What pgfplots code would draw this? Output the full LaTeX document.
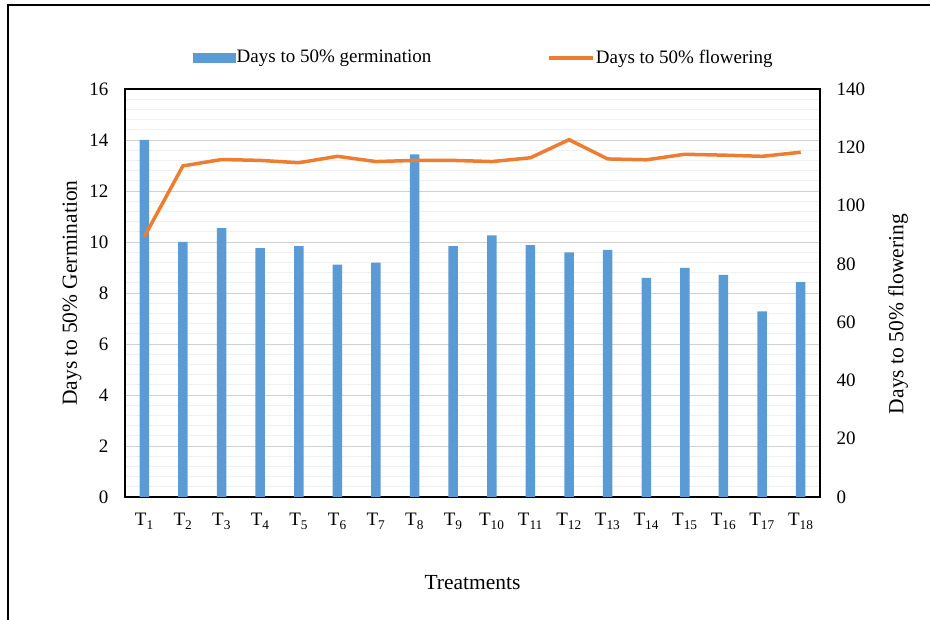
\documentclass[border=0pt]{standalone}
\usepackage{fontspec}
\setmainfont{Liberation Serif}
\usepackage{pgfplots}
\usepackage{pgfplotstable}
\pgfplotsset{compat=1.18}
\definecolor{barblue}{HTML}{5B9BD5}
\definecolor{lineorange}{HTML}{ED7D31}

% treatment, days to 50% germination, days to 50% flowering
\pgfplotstableread{
t  germ   flower
1  14.00  89.3
2  10.00  113.6
3  10.54  115.8
4  9.76   115.5
5  9.84   114.7
6  9.11   116.9
7  9.19   115.1
8  13.44  115.5
9  9.84   115.5
10 10.26  115.1
11 9.88   116.4
12 9.59   122.6
13 9.69   116.0
14 8.59   115.7
15 8.99   117.6
16 8.71   117.3
17 7.28   116.9
18 8.43   118.3
}\datatable

\pgfplotsset{
  common/.style={
    at={(125bp,123bp)}, anchor=south west,
    scale only axis, width=695bp, height=408bp,
    xmin=0.5, xmax=18.5,
    major tick length=0, minor tick length=0,
    /pgf/number format/assume math mode=true,
    axis line style={line width=1.3bp},
    tick label style={font=\fontsize{19bp}{22bp}\selectfont},
    label style={font=\fontsize{21.5bp}{25bp}\selectfont},
  },
}

\begin{document}
\fontsize{19bp}{22bp}\selectfont
\begin{tikzpicture}
\path[use as bounding box] (0,0) rectangle (930bp,620bp);
\draw[line width=2.5bp] (8bp,-10bp) -- (8bp,615bp) -- (940bp,615bp);

\begin{axis}[common,
    ymin=0, ymax=16, ytick={0,2,...,16},
    minor y tick num=4,
    ymajorgrids, yminorgrids,
    major grid style={draw=black!18, line width=0.9bp},
    minor grid style={draw=black!6, line width=0.9bp},
    xtick={1,...,18},
    xticklabels={T\textsubscript{1},T\textsubscript{2},T\textsubscript{3},T\textsubscript{4},T\textsubscript{5},T\textsubscript{6},T\textsubscript{7},T\textsubscript{8},T\textsubscript{9},T\textsubscript{10},T\textsubscript{11},T\textsubscript{12},T\textsubscript{13},T\textsubscript{14},T\textsubscript{15},T\textsubscript{16},T\textsubscript{17},T\textsubscript{18}},
    xticklabel style={yshift=-10bp},
    yticklabel style={xshift=-10bp},
    xlabel={Treatments},
    xlabel style={at={(axis description cs:0.5,0)}, anchor=center, yshift=-86bp},
    ylabel={Days to 50\% Germination},
    ylabel style={at={(axis description cs:0,0.5)}, anchor=center, yshift=53bp},
    ybar, bar width=9.5bp,
  ]
  \addplot[fill=barblue, draw=none] table[x=t, y=germ] {\datatable};
\end{axis}

\begin{axis}[common,
    axis x line=none, axis y line*=right,
    ymin=0, ymax=140, ytick={0,20,...,140},
    yticklabel style={xshift=10bp},
    ylabel={Days to 50\% flowering},
    ylabel style={at={(axis description cs:1,0.5)}, anchor=center, yshift=-78bp, xshift=-21bp},
    legend columns=2,
    legend style={at={(axis description cs:0.5,1)}, anchor=center, xshift=11bp, yshift=31bp,
      draw=none, fill=none, inner sep=0pt,
      nodes={inner sep=1.5bp},
      /tikz/every even column/.append style={column sep=114bp}},
  ]
  \addlegendimage{legend image code/.code={\fill[barblue] (0bp,-4.5bp) rectangle (42bp,4.5bp);}}
  \addlegendentry{Days to 50\% germination}
  \addplot[lineorange, line width=3.5bp, mark=none,
    legend image code/.code={\draw[lineorange, line width=3.5bp] (0bp,0bp) -- (44bp,0bp);}]
    table[x=t, y=flower] {\datatable};
  \addlegendentry{Days to 50\% flowering}
\end{axis}
\end{tikzpicture}
\end{document}
